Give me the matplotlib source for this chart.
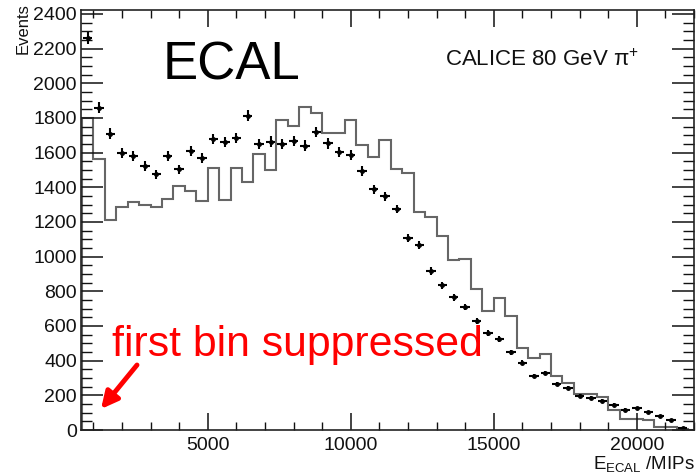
import numpy as np
import matplotlib
matplotlib.use("Agg")
import matplotlib.pyplot as plt
from matplotlib.ticker import MultipleLocator

plt.rcParams['font.family'] = ['Liberation Sans', 'DejaVu Sans']
plt.rcParams['mathtext.fontset'] = 'custom'
plt.rcParams['mathtext.rm'] = 'Liberation Sans'
plt.rcParams['mathtext.it'] = 'Liberation Sans:italic'
plt.rcParams['mathtext.bf'] = 'Liberation Sans:bold'

# ---- data ----
# data points: bin centres (MIPs) and event counts
data_centers = [800 + 400 * k for k in range(53)]
data_counts = [2260, 1860, 1710, 1600, 1580, 1525, 1475, 1582, 1503, 1609,
               1568, 1678, 1663, 1686, 1813, 1652, 1664, 1651, 1668, 1641,
               1718, 1653, 1605, 1586, 1495, 1389, 1349, 1275, 1106, 1069,
               917, 835, 765, 710, 629, 562, 523, 448, 388, 311,
               330, 263, 244, 198, 184, 170, 147, 118, 126, 103,
               82, 55, 12]

# simulation histogram: bin edges and contents
hist_edges = [600 + 400 * k for k in range(55)]
hist_counts = [1800, 1561, 1214, 1287, 1314, 1300, 1288, 1330, 1407, 1380,
               1323, 1510, 1328, 1510, 1430, 1593, 1502, 1788, 1752, 1864,
               1826, 1715, 1715, 1790, 1645, 1576, 1672, 1505, 1485, 1256,
               1229, 1117, 981, 985, 812, 686, 764, 656, 475, 417,
               436, 311, 272, 207, 207, 188, 113, 65, 65, 55,
               16, 16, 3, 0]

x_major_ticks = [5000, 10000, 15000, 20000]
y_major_ticks = list(range(0, 2401, 200))

# ---- figure ----
W, H = 700, 473
fig = plt.figure(figsize=(W / 100, H / 100), dpi=100)
ax = fig.add_axes([81 / W, 1 - 430 / H, (694 - 81) / W, (430 - 10) / H])

ax.stairs(hist_counts, hist_edges, color='#666666', lw=1.5)

dc = np.array(data_counts, dtype=float)
ax.errorbar(data_centers, dc, xerr=165, yerr=0.72 * np.sqrt(dc),
            fmt='o', ms=2.5, color='black', ecolor='black',
            elinewidth=1.5, capsize=0)

ax.set_xlim(570, 22000)
ax.set_ylim(0, 2423)
ax.set_xticks(x_major_ticks)
ax.set_yticks(y_major_ticks)
ax.xaxis.set_minor_locator(MultipleLocator(1000))
ax.yaxis.set_minor_locator(MultipleLocator(50))
ax.tick_params(axis='both', which='both', direction='in',
               top=True, right=True, labelsize=14, colors='#111111')
ax.tick_params(axis='y', which='major', length=16, width=1.1, pad=3)
ax.tick_params(axis='y', which='minor', length=8, width=1.0)
ax.tick_params(axis='x', which='major', length=12, width=1.1, pad=5)
ax.tick_params(axis='x', which='minor', length=6, width=1.0)
for s in ax.spines.values():
    s.set_linewidth(1.2)
    s.set_color('#222222')

# axis titles
fig.text(23 / W, 1 - 3 / H, 'Events', rotation=90, ha='center', va='top',
         fontsize=12, color='#111111')
fig.text(695 / W, 1 - 469 / H, r'E$_{\mathrm{ECAL}}$ /MIPs', ha='right',
         va='baseline', fontsize=13.5, color='#111111')

# annotations
fig.text(163 / W, 1 - 80 / H, 'ECAL', fontsize=38, ha='left', va='baseline',
         color='black')
fig.text(445 / W, 1 - 65.5 / H, r'CALICE 80 GeV $\mathrm{\pi}^{+}$',
         fontsize=16, ha='left', va='baseline', color='#111111')
fig.text(112 / W, 1 - 356 / H, 'first bin suppressed', fontsize=30.8,
         ha='left', va='baseline', color='#ff0000')
ax.annotate('', xy=(101 / W, 1 - 409 / H), xycoords='figure fraction',
            xytext=(137 / W, 1 - 365 / H), textcoords='figure fraction',
            arrowprops=dict(arrowstyle='-|>,head_length=1.0,head_width=0.5',
                            color='#ff0000', lw=3.5, shrinkA=0, shrinkB=0))

fig.savefig('out.png', dpi=100)
